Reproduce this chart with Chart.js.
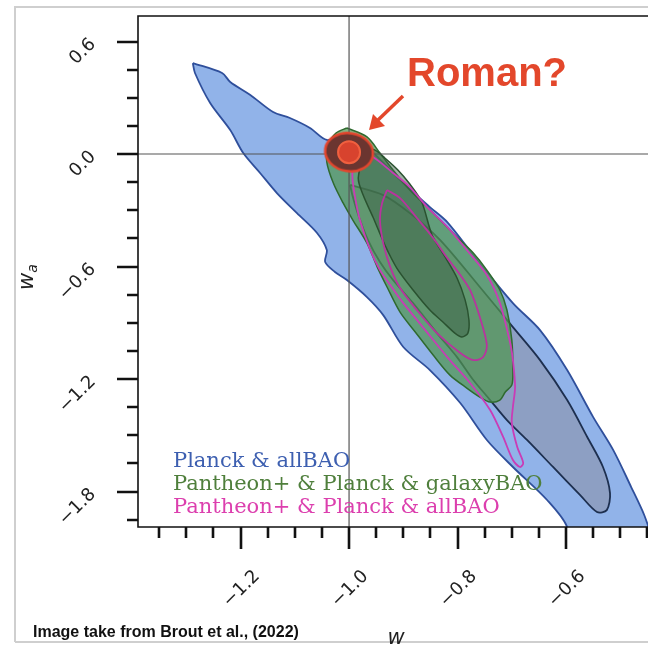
<!DOCTYPE html>
<html>
<head>
<meta charset="utf-8">
<script src="https://cdn.jsdelivr.net/npm/chart.js@4"></script>
<style>
  html, body { margin: 0; padding: 0; background: #fff; overflow: hidden; }
</style>
</head>
<body>
<canvas id="contourChart" width="648" height="645"></canvas>
<script>
// axis ranges and tick labels (w on x, w_a on y)
const xMin = -1.389, xMax = -0.449;
const yMin = -1.989, yMax = 0.736;
const xTickValues = [-1.2, -1.0, -0.8, -0.6];
const xTickLabels = ["\u22121.2", "\u22121.0", "\u22120.8", "\u22120.6"];
const yTickValues = [0.6, 0.0, -0.6, -1.2, -1.8];
const yTickLabels = ["0.6", "0.0", "\u22120.6", "\u22121.2", "\u22121.8"];

// reference point (LCDM) and the Roman forecast marker
const lcdmW = -1.0, lcdmWa = 0.0;
const romanPoint = [-1.0, 0.01];

// contours: [w, wa]
const planckAllBAO95 = [
  [-1.288, 0.485], [-1.234, 0.432], [-1.219, 0.384], [-1.182, 0.315], [-1.140, 0.224],
  [-1.109, 0.192], [-1.072, 0.139], [-1.041, 0.075], [-1.007, 0.101], [-0.961, 0.021],
  [-0.906, -0.139], [-0.851, -0.283], [-0.819, -0.363], [-0.764, -0.565], [-0.698, -0.795],
  [-0.648, -0.939], [-0.598, -1.152], [-0.550, -1.403], [-0.513, -1.579], [-0.480, -1.776],
  [-0.456, -1.925], [-0.440, -2.06], [-0.427, -2.165], [-0.593, -2.165], [-0.598, -1.989],
  [-0.635, -1.845], [-0.698, -1.669], [-0.746, -1.525], [-0.795, -1.328], [-0.851, -1.152],
  [-0.900, -1.029], [-0.937, -0.859], [-0.967, -0.763], [-1.004, -0.672], [-1.026, -0.629],
  [-1.044, -0.576], [-1.041, -0.512], [-1.059, -0.421], [-1.096, -0.315], [-1.133, -0.208],
  [-1.164, -0.101], [-1.195, 0.005], [-1.219, 0.128], [-1.256, 0.272], [-1.284, 0.432]
];
const planckAllBAO68 = [
  [-0.998, -0.165], [-0.937, -0.219], [-0.888, -0.315], [-0.832, -0.459], [-0.759, -0.709],
  [-0.698, -0.923], [-0.648, -1.099], [-0.598, -1.312], [-0.561, -1.509], [-0.532, -1.669],
  [-0.519, -1.808], [-0.525, -1.899], [-0.543, -1.909], [-0.574, -1.819], [-0.624, -1.669],
  [-0.672, -1.525], [-0.709, -1.419], [-0.740, -1.312], [-0.771, -1.205], [-0.801, -1.083],
  [-0.838, -0.955], [-0.882, -0.795], [-0.919, -0.672], [-0.943, -0.576], [-0.965, -0.459],
  [-0.983, -0.325], [-0.994, -0.219]
];
const pantheonGalaxyBAO95 = [
  [-1.004, 0.139], [-0.967, 0.091], [-0.943, 0.005], [-0.919, -0.085], [-0.888, -0.192],
  [-0.856, -0.283], [-0.832, -0.352], [-0.801, -0.443], [-0.771, -0.528], [-0.746, -0.619],
  [-0.722, -0.725], [-0.709, -0.832], [-0.700, -0.992], [-0.698, -1.152], [-0.700, -1.232],
  [-0.712, -1.269], [-0.722, -1.312], [-0.740, -1.323], [-0.759, -1.296], [-0.783, -1.248],
  [-0.814, -1.179], [-0.845, -1.072], [-0.878, -0.949], [-0.906, -0.843], [-0.930, -0.709],
  [-0.948, -0.603], [-0.967, -0.475], [-0.993, -0.352], [-1.011, -0.261], [-1.029, -0.155],
  [-1.041, -0.043], [-1.039, 0.048], [-1.024, 0.112]
];
const pantheonGalaxyBAO68 = [
  [-0.970, 0.032], [-0.952, 0.021], [-0.934, -0.021], [-0.910, -0.085], [-0.888, -0.160],
  [-0.866, -0.256], [-0.847, -0.432], [-0.823, -0.549], [-0.801, -0.661], [-0.786, -0.779],
  [-0.779, -0.885], [-0.781, -0.955], [-0.792, -0.976], [-0.805, -0.955], [-0.827, -0.896],
  [-0.851, -0.832], [-0.882, -0.725], [-0.912, -0.608], [-0.934, -0.485], [-0.956, -0.336],
  [-0.974, -0.219], [-0.983, -0.128]
];
const pantheonAllBAO95 = [
  [-0.989, 0.021], [-0.956, -0.016], [-0.919, -0.101], [-0.888, -0.176], [-0.856, -0.283],
  [-0.819, -0.389], [-0.783, -0.512], [-0.746, -0.645], [-0.722, -0.795], [-0.703, -1.008],
  [-0.698, -1.099], [-0.694, -1.243], [-0.698, -1.349], [-0.700, -1.435], [-0.690, -1.563],
  [-0.679, -1.648], [-0.685, -1.669], [-0.698, -1.632], [-0.716, -1.509], [-0.740, -1.365],
  [-0.777, -1.221], [-0.819, -1.083], [-0.864, -0.923], [-0.900, -0.795], [-0.924, -0.699],
  [-0.943, -0.619], [-0.961, -0.512], [-0.980, -0.352], [-0.989, -0.229], [-0.994, -0.112]
];
const pantheonAllBAO68 = [
  [-0.930, -0.192], [-0.906, -0.235], [-0.875, -0.341], [-0.845, -0.448], [-0.819, -0.555],
  [-0.795, -0.645], [-0.777, -0.725], [-0.759, -0.869], [-0.746, -1.019], [-0.753, -1.083],
  [-0.771, -1.099], [-0.795, -1.061], [-0.838, -0.955], [-0.875, -0.832], [-0.906, -0.715],
  [-0.924, -0.603], [-0.937, -0.475], [-0.943, -0.352], [-0.939, -0.261]
];

const legendItems = [
  { text: "Planck & allBAO", color: "#3d5fb0" },
  { text: "Pantheon+ & Planck & galaxyBAO", color: "#4f7f3c" },
  { text: "Pantheon+ & Planck & allBAO", color: "#dc3fae" }
];

function contour(points, fill, line, width, order) {
  const data = points.map(p => ({ x: p[0], y: p[1] }));
  data.push(data[0]);
  return {
    data,
    showLine: true,
    fill: fill ? "shape" : false,
    backgroundColor: fill || "transparent",
    borderColor: line,
    borderWidth: width,
    pointRadius: 0,
    tension: 0.3,
    order
  };
}

// sprite for the big Roman ellipse
function ellipseSprite(rx, ry, fill, stroke, lw, angle) {
  const c = document.createElement("canvas");
  const s = Math.ceil(Math.max(rx, ry) * 2 + lw * 2 + 4);
  c.width = s;
  c.height = s;
  const g = c.getContext("2d");
  g.translate(s / 2, s / 2);
  g.rotate(angle);
  g.beginPath();
  g.ellipse(0, 0, rx, ry, 0, 0, Math.PI * 2);
  g.fillStyle = fill;
  g.fill();
  g.lineWidth = lw;
  g.strokeStyle = stroke;
  g.stroke();
  return c;
}

const decorPlugin = {
  id: "decor",
  beforeDraw(chart) {
    const ctx = chart.ctx;
    ctx.save();
    ctx.fillStyle = "#fff";
    ctx.fillRect(0, 0, chart.width, chart.height);
    // outer window frame
    ctx.strokeStyle = "#cfcfcf";
    ctx.lineWidth = 2;
    ctx.beginPath();
    ctx.moveTo(15, 642);
    ctx.lineTo(15, 7);
    ctx.lineTo(chart.width, 7);
    ctx.moveTo(15, 642);
    ctx.lineTo(chart.width, 642);
    ctx.stroke();
    ctx.restore();
  },
  afterDraw(chart) {
    const ctx = chart.ctx;
    const a = chart.chartArea;
    const xs = chart.scales.x, ys = chart.scales.y;
    ctx.save();

    // axes frame
    ctx.strokeStyle = "#111";
    ctx.lineWidth = 1.6;
    ctx.beginPath();
    ctx.moveTo(a.right, a.top);
    ctx.lineTo(a.left, a.top);
    ctx.lineTo(a.left, a.bottom);
    ctx.lineTo(a.right, a.bottom);
    ctx.stroke();

    // ticks (major every 4th)
    ctx.lineWidth = 2.6;
    ctx.beginPath();
    for (let k = Math.ceil(yMin / 0.15); k <= Math.floor(yMax / 0.15); k++) {
      const py = Math.round(ys.getPixelForValue(k * 0.15));
      const len = k % 4 === 0 ? 21 : 11;
      ctx.moveTo(a.left, py);
      ctx.lineTo(a.left - len, py);
    }
    for (let k = Math.ceil(xMin / 0.05); k <= Math.floor(xMax / 0.05); k++) {
      const px = Math.round(xs.getPixelForValue(k * 0.05));
      const len = k % 4 === 0 ? 22 : 11;
      ctx.moveTo(px, a.bottom);
      ctx.lineTo(px, a.bottom + len);
    }
    ctx.stroke();

    // rotated tick labels
    ctx.fillStyle = "#222";
    ctx.font = '18px "DejaVu Sans"';
    ctx.textBaseline = "middle";
    ctx.textAlign = "right";
    yTickValues.forEach((v, i) => {
      ctx.save();
      ctx.translate(a.left - 45, ys.getPixelForValue(v));
      ctx.rotate(-Math.PI / 4);
      ctx.fillText(yTickLabels[i], 0, 0);
      ctx.restore();
    });
    ctx.textAlign = "center";
    xTickValues.forEach((v, i) => {
      ctx.save();
      ctx.translate(xs.getPixelForValue(v) + 1, a.bottom + 62);
      ctx.rotate(-Math.PI / 4);
      ctx.fillText(xTickLabels[i], 0, 0);
      ctx.restore();
    });

    // axis titles
    ctx.textAlign = "left";
    ctx.textBaseline = "alphabetic";
    ctx.save();
    ctx.translate(33, 290);
    ctx.rotate(-Math.PI / 2);
    ctx.font = 'italic 21px "DejaVu Sans"';
    ctx.fillText("w", 0, 0);
    const ww = ctx.measureText("w").width;
    ctx.font = 'italic 14px "DejaVu Sans"';
    ctx.fillText("a", ww, 4);
    ctx.restore();
    ctx.font = 'italic 21px "DejaVu Sans"';
    ctx.textAlign = "center";
    ctx.fillText("w", 396, 644);

    // legend text
    ctx.textAlign = "left";
    ctx.font = '21px "DejaVu Serif"';
    legendItems.forEach((item, i) => {
      ctx.fillStyle = item.color;
      ctx.fillText(item.text, 173, 467 + i * 23);
    });

    // annotation
    ctx.fillStyle = "#e3472b";
    ctx.font = 'bold 40px "Liberation Sans"';
    ctx.fillText("Roman?", 407, 86);
    ctx.strokeStyle = "#e3472b";
    ctx.lineWidth = 3.5;
    ctx.beginPath();
    ctx.moveTo(403, 96);
    ctx.lineTo(377, 121);
    ctx.stroke();
    ctx.beginPath();
    ctx.moveTo(369, 130);
    ctx.lineTo(373, 114);
    ctx.lineTo(385, 126);
    ctx.closePath();
    ctx.fill();

    // credit
    ctx.fillStyle = "#111";
    ctx.font = 'bold 16px "Liberation Sans"';
    ctx.fillText("Image take from Brout et al., (2022)", 33, 637);
    ctx.restore();
  }
};

const romanSprite = ellipseSprite(24, 19, "#6b3530", "#e5452d", 2.5, 0.15);

new Chart(document.getElementById("contourChart"), {
  type: "scatter",
  data: {
    datasets: [
      contour(planckAllBAO95, "#91b3e9", "#2f4f9b", 1.8, 9),
      contour(planckAllBAO68, "#8d9fc3", "#1d2f4f", 1.8, 8),
      contour(pantheonGalaxyBAO95, "rgba(80,150,80,0.72)", "#2f6a2f", 1.5, 7),
      contour(pantheonGalaxyBAO68, "rgba(60,95,70,0.5)", "#2a5230", 1.5, 6),
      contour(pantheonAllBAO95, null, "#c93cb6", 1.8, 5),
      contour(pantheonAllBAO68, null, "#b8339e", 1.8, 4),
      {
        data: [{ x: lcdmW, y: yMin }, { x: lcdmW, y: yMax }],
        showLine: true, borderColor: "#555", borderWidth: 1.2, pointRadius: 0, order: 3
      },
      {
        data: [{ x: xMin, y: lcdmWa }, { x: xMax, y: lcdmWa }],
        showLine: true, borderColor: "#555", borderWidth: 1.2, pointRadius: 0, order: 3
      },
      {
        data: [{ x: romanPoint[0], y: romanPoint[1] }],
        pointStyle: romanSprite, pointRadius: 20, order: 2
      },
      {
        data: [{ x: romanPoint[0], y: romanPoint[1] }],
        pointRadius: 11, backgroundColor: "#d8432e", borderColor: "#f0603f", borderWidth: 2, order: 1
      }
    ]
  },
  options: {
    responsive: false,
    animation: false,
    devicePixelRatio: 1,
    layout: { autoPadding: false, padding: { left: 138, top: 16, right: 0, bottom: 118 } },
    plugins: { legend: { display: false }, tooltip: { enabled: false } },
    scales: {
      x: { type: "linear", display: false, min: xMin, max: xMax },
      y: { type: "linear", display: false, min: yMin, max: yMax }
    }
  },
  plugins: [decorPlugin]
});
</script>
</body>
</html>
